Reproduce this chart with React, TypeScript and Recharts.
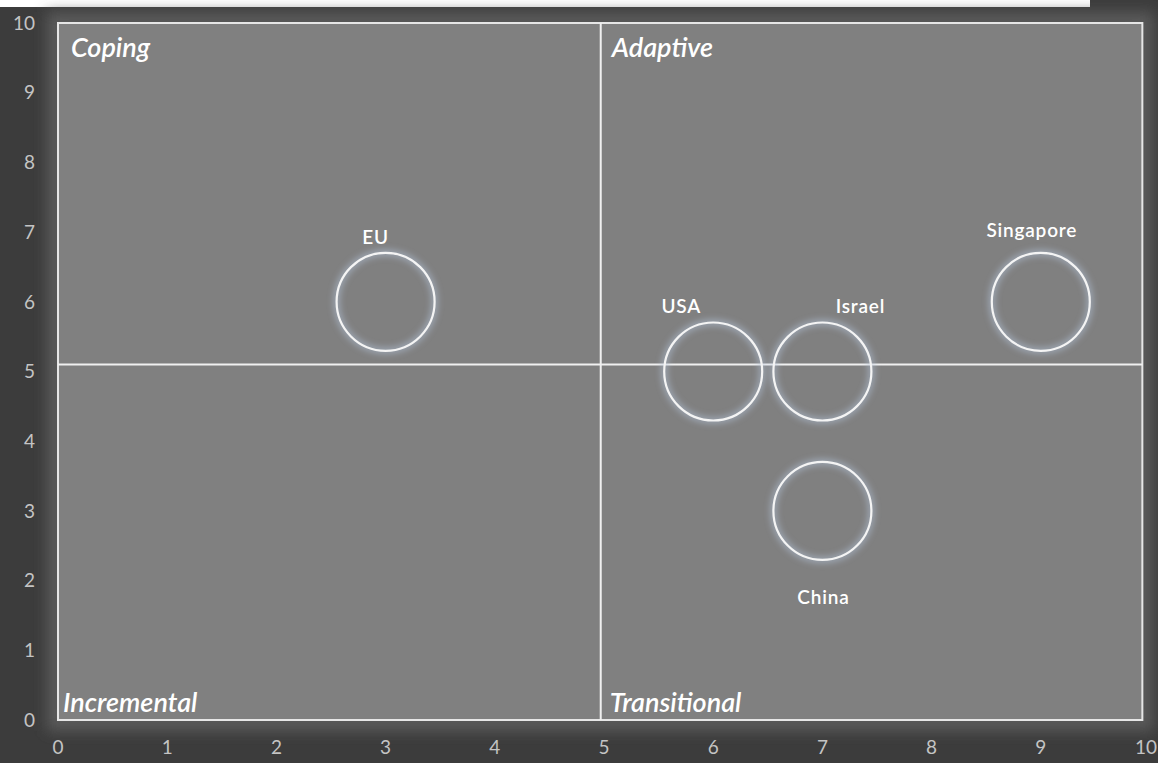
import React from 'react';
import { ScatterChart, Scatter, XAxis, YAxis, ReferenceLine, ReferenceArea } from 'recharts';

const countries = ['EU', 'USA', 'Israel', 'Singapore', 'China'];
const xValues = [3, 6, 7, 9, 7];
const yValues = [6, 5, 5, 6, 3];
const axisTicks = [0, 1, 2, 3, 4, 5, 6, 7, 8, 9, 10];
// the quadrant dividers and frame in the source sit a touch off the round values
const splitX = 4.97;
const splitY = 5.1;
const frameRight = 9.93;

const points = countries.map((name, i) => ({ name, x: xValues[i], y: yValues[i] }));

// where each country label sits relative to its circle (px)
const labelOffsets: Record<string, [number, number]> = {
  EU: [-10, -65],
  USA: [-32, -66],
  Israel: [38, -66],
  Singapore: [-9, -72],
  China: [1, 86],
};

const FONT = 'Lato, "Open Sans", sans-serif';
const TICK_FILL = '#c4c4c4';

const PlotFrame = (props: any) => {
  const { x, y, width, height } = props;
  return (
    <g>
      <defs>
        <filter id="frameGlow" x="-10%" y="-10%" width="120%" height="120%">
          <feGaussianBlur stdDeviation="7" />
        </filter>
        <filter id="softGlow" x="-20%" y="-20%" width="140%" height="140%">
          <feGaussianBlur stdDeviation="3" />
        </filter>
        <filter id="lineGlow" x="-50%" y="-50%" width="200%" height="200%">
          <feGaussianBlur stdDeviation="6" />
        </filter>
      </defs>
      <rect x={x} y={y} width={width} height={height} fill="none" stroke="#5a5a5a" strokeWidth={22} filter="url(#frameGlow)" />
      <rect x={x} y={y} width={width} height={height} fill="#808080" stroke="#e6e6e6" strokeWidth={2} />
    </g>
  );
};

const QuadrantLabel = ({ viewBox, text, bottom, dx = 12 }: any) => {
  if (!viewBox) return null;
  const { x, y, height } = viewBox;
  return (
    <text
      x={x + dx}
      y={bottom ? y + height - 8 : y + 34}
      fill="#ffffff"
      fontSize={27}
      fontStyle="italic"
      fontWeight={600}
      fontFamily={FONT}
    >
      {text}
    </text>
  );
};

// last x tick hugs the right edge so it is not clipped
const XTick = ({ x, y, payload }: any) => {
  const last = payload.value === 10;
  return (
    <text
      x={last ? 1157 : x}
      y={y}
      dy="0.71em"
      textAnchor={last ? 'end' : 'middle'}
      fill={TICK_FILL}
      fontSize={19}
      fontFamily={FONT}
    >
      {payload.value}
    </text>
  );
};

const Bubble = (props: any) => {
  const { cx, cy, payload } = props;
  const [dx, dy] = labelOffsets[payload.name] || [0, -65];
  return (
    <g>
      <circle cx={cx} cy={cy} r={49} fill="none" stroke="#b4c4dc" strokeWidth={6} strokeOpacity={0.6} filter="url(#softGlow)" />
      <circle cx={cx} cy={cy} r={49} fill="none" stroke="#f4f4f4" strokeWidth={2.2} />
      <text
        x={cx + dx}
        y={cy + dy}
        textAnchor="middle"
        dominantBaseline="central"
        fill="#ffffff"
        fontSize={19}
        fontWeight={600}
        letterSpacing={0.8}
        fontFamily={FONT}
      >
        {payload.name}
      </text>
    </g>
  );
};

export default function App() {
  return (
    <div style={{ position: 'fixed', left: 0, top: 0, width: 1158, height: 763, background: '#3c3c3c' }}>
      <div style={{ position: 'absolute', left: 0, top: 0, width: 1090, height: 7, background: '#ffffff' }} />
      <ScatterChart width={1158} height={763} margin={{ top: 23, right: 8, bottom: 13, left: 8 }}>
        <XAxis
          type="number"
          dataKey="x"
          domain={[0, 10]}
          ticks={axisTicks}
          height={30}
          axisLine={false}
          tickLine={false}
          tickMargin={15}
          tick={<XTick />}
        />
        <YAxis
          type="number"
          dataKey="y"
          domain={[0, 10]}
          ticks={axisTicks}
          width={50}
          axisLine={false}
          tickLine={false}
          tickMargin={17}
          tick={{ fill: TICK_FILL, fontSize: 19, fontFamily: FONT }}
        />
        <ReferenceArea x1={0} x2={frameRight} y1={0} y2={10} shape={<PlotFrame />} ifOverflow="visible" />
        <ReferenceLine x={splitX} stroke="#a8a8a8" strokeWidth={12} strokeOpacity={0.5} filter="url(#lineGlow)" />
        <ReferenceLine segment={[{ x: 0, y: splitY }, { x: frameRight, y: splitY }]} stroke="#a8a8a8" strokeWidth={12} strokeOpacity={0.5} filter="url(#lineGlow)" />
        <ReferenceLine x={splitX} stroke="#f0f0f0" strokeWidth={2} />
        <ReferenceLine segment={[{ x: 0, y: splitY }, { x: frameRight, y: splitY }]} stroke="#f0f0f0" strokeWidth={2} />
        <ReferenceArea x1={0} x2={splitX} y1={splitY} y2={10} fillOpacity={0} strokeOpacity={0} label={<QuadrantLabel text="Coping" dx={13} />} />
        <ReferenceArea x1={splitX} x2={frameRight} y1={splitY} y2={10} fillOpacity={0} strokeOpacity={0} label={<QuadrantLabel text="Adaptive" dx={11} />} />
        <ReferenceArea x1={0} x2={splitX} y1={0} y2={splitY} fillOpacity={0} strokeOpacity={0} label={<QuadrantLabel text="Incremental" bottom dx={5} />} />
        <ReferenceArea x1={splitX} x2={frameRight} y1={0} y2={splitY} fillOpacity={0} strokeOpacity={0} label={<QuadrantLabel text="Transitional" bottom dx={9} />} />
        <Scatter data={points} shape={<Bubble />} isAnimationActive={false} />
      </ScatterChart>
    </div>
  );
}
